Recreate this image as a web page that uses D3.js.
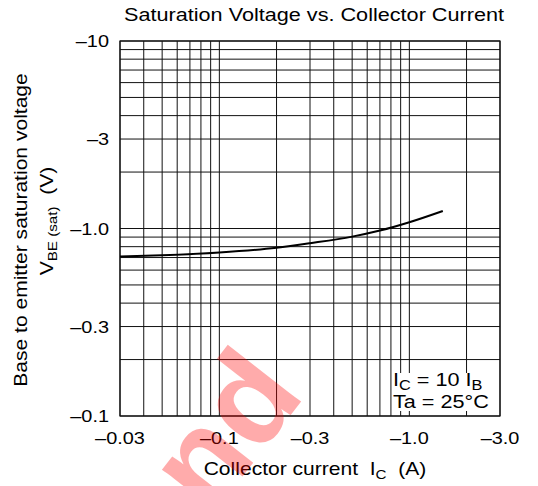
<!DOCTYPE html>
<html>
<head>
<meta charset="utf-8">
<script src="https://cdn.jsdelivr.net/npm/d3@7"></script>
<style>
  html, body { margin: 0; padding: 0; background: #fff; }
  svg { display: block; font-family: "Liberation Sans", Arial, sans-serif; }
  svg text { white-space: pre; }
</style>
</head>
<body>
<svg id="chart" width="538" height="486"></svg>
<script>
// Data
const icValues  = [-0.03, -0.05, -0.1, -0.2, -0.3, -0.5, -0.7, -1.0, -1.5];
const vbeValues = [-0.71, -0.72, -0.745, -0.79, -0.835, -0.905, -0.975, -1.08, -1.24];

const xTickValues = [-0.03, -0.1, -0.3, -1.0, -3.0];
const xTickLabels = ["\u20130.03", "\u20130.1", "\u20130.3", "\u20131.0", "\u20133.0"];
const yTickValues = [-10, -3, -1, -0.3, -0.1];
const yTickLabels = ["\u201310", "\u20133", "\u20131.0", "\u20130.3", "\u20130.1"];

const xGrid = [-0.03,-0.04,-0.05,-0.06,-0.07,-0.08,-0.09,-0.1,-0.2,-0.3,-0.4,-0.5,-0.6,-0.7,-0.8,-0.9,-1,-2,-3];
const yGrid = [-0.1,-0.2,-0.3,-0.4,-0.5,-0.6,-0.7,-0.8,-0.9,-1,-2,-3,-4,-5,-6,-7,-8,-9,-10];

const svg = d3.select("#chart");
const L = 120, R = 500, T = 41, B = 416;
const SX = 1.17; // horizontal stretch of the reference's lettering

const x = d3.scaleLog().domain([-0.03, -3]).range([L, R]);
const y = d3.scaleLog().domain([-0.1, -10]).range([B, T]);

function label(px, py, rot, size, anchor) {
  return svg.append("text")
    .attr("transform", `translate(${px},${py}) rotate(${rot}) scale(${SX},1)`)
    .attr("text-anchor", anchor).attr("font-size", size).attr("fill", "#000");
}

// grid
const g = svg.append("g");
g.selectAll("line.vx").data(xGrid).join("line")
  .attr("x1", d => x(d)).attr("x2", d => x(d))
  .attr("y1", T).attr("y2", B)
  .attr("stroke", "#111").attr("stroke-width", 1);
g.selectAll("line.hy").data(yGrid).join("line")
  .attr("y1", d => y(d)).attr("y2", d => y(d))
  .attr("x1", L).attr("x2", R)
  .attr("stroke", "#111").attr("stroke-width", 1);
svg.append("rect").attr("x", L).attr("y", T).attr("width", R - L).attr("height", B - T)
  .attr("fill", "none").attr("stroke", "#111").attr("stroke-width", 1.2);

// curve
const pts = icValues.map((v, i) => [v, vbeValues[i]]);
svg.append("path").datum(pts)
  .attr("d", d3.line().x(d => x(d[0])).y(d => y(d[1])).curve(d3.curveMonotoneX))
  .attr("fill", "none").attr("stroke", "#000").attr("stroke-width", 2);

// annotation box (white behind text)
svg.append("rect").attr("x", 392).attr("y", 373).attr("width", 98).attr("height", 38).attr("fill", "#fff");
const ann = label(393, 386, 0, 18.5, "start");
ann.append("tspan").text("I");
ann.append("tspan").attr("font-size", 14).attr("dy", 4).text("C");
ann.append("tspan").attr("dy", -4).text(" = 10 I");
ann.append("tspan").attr("font-size", 14).attr("dy", 4).text("B");
label(393, 408, 0, 18.5, "start").text("Ta = 25\u00B0C");

// x tick labels
xTickValues.forEach((d, i) => label(x(d), 444, 0, 17, "middle").text(xTickLabels[i]));

// y tick labels
yTickValues.forEach((d, i) => label(109, y(d) + 6, 0, 17, "end").text(yTickLabels[i]));

// title
label(314, 21, 0, 18.5, "middle").text("Saturation Voltage vs. Collector Current");

// x label
const xl = label(315, 475, 0, 18, "middle");
xl.append("tspan").text("Collector current  I");
xl.append("tspan").attr("font-size", 13).attr("dy", 4).text("C");
xl.append("tspan").attr("dy", -4).text("  (A)");

// y label
label(27, 230, -90, 18, "middle").text("Base to emitter saturation voltage");
const yl = label(53, 221, -90, 18, "middle");
yl.append("tspan").text("V");
yl.append("tspan").attr("font-size", 13).attr("dy", 4).text("BE");
yl.append("tspan").attr("font-size", 13).text(" (sat)");
yl.append("tspan").attr("dy", -4).text("  (V)");

// faint watermark seen in the reference
svg.append("text").attr("transform", "translate(210,518) rotate(-52)")
  .attr("font-size", 128).attr("font-weight", "bold")
  .attr("fill", "#ff0000").attr("fill-opacity", 0.33)
  .text("nd");
</script>
</body>
</html>
